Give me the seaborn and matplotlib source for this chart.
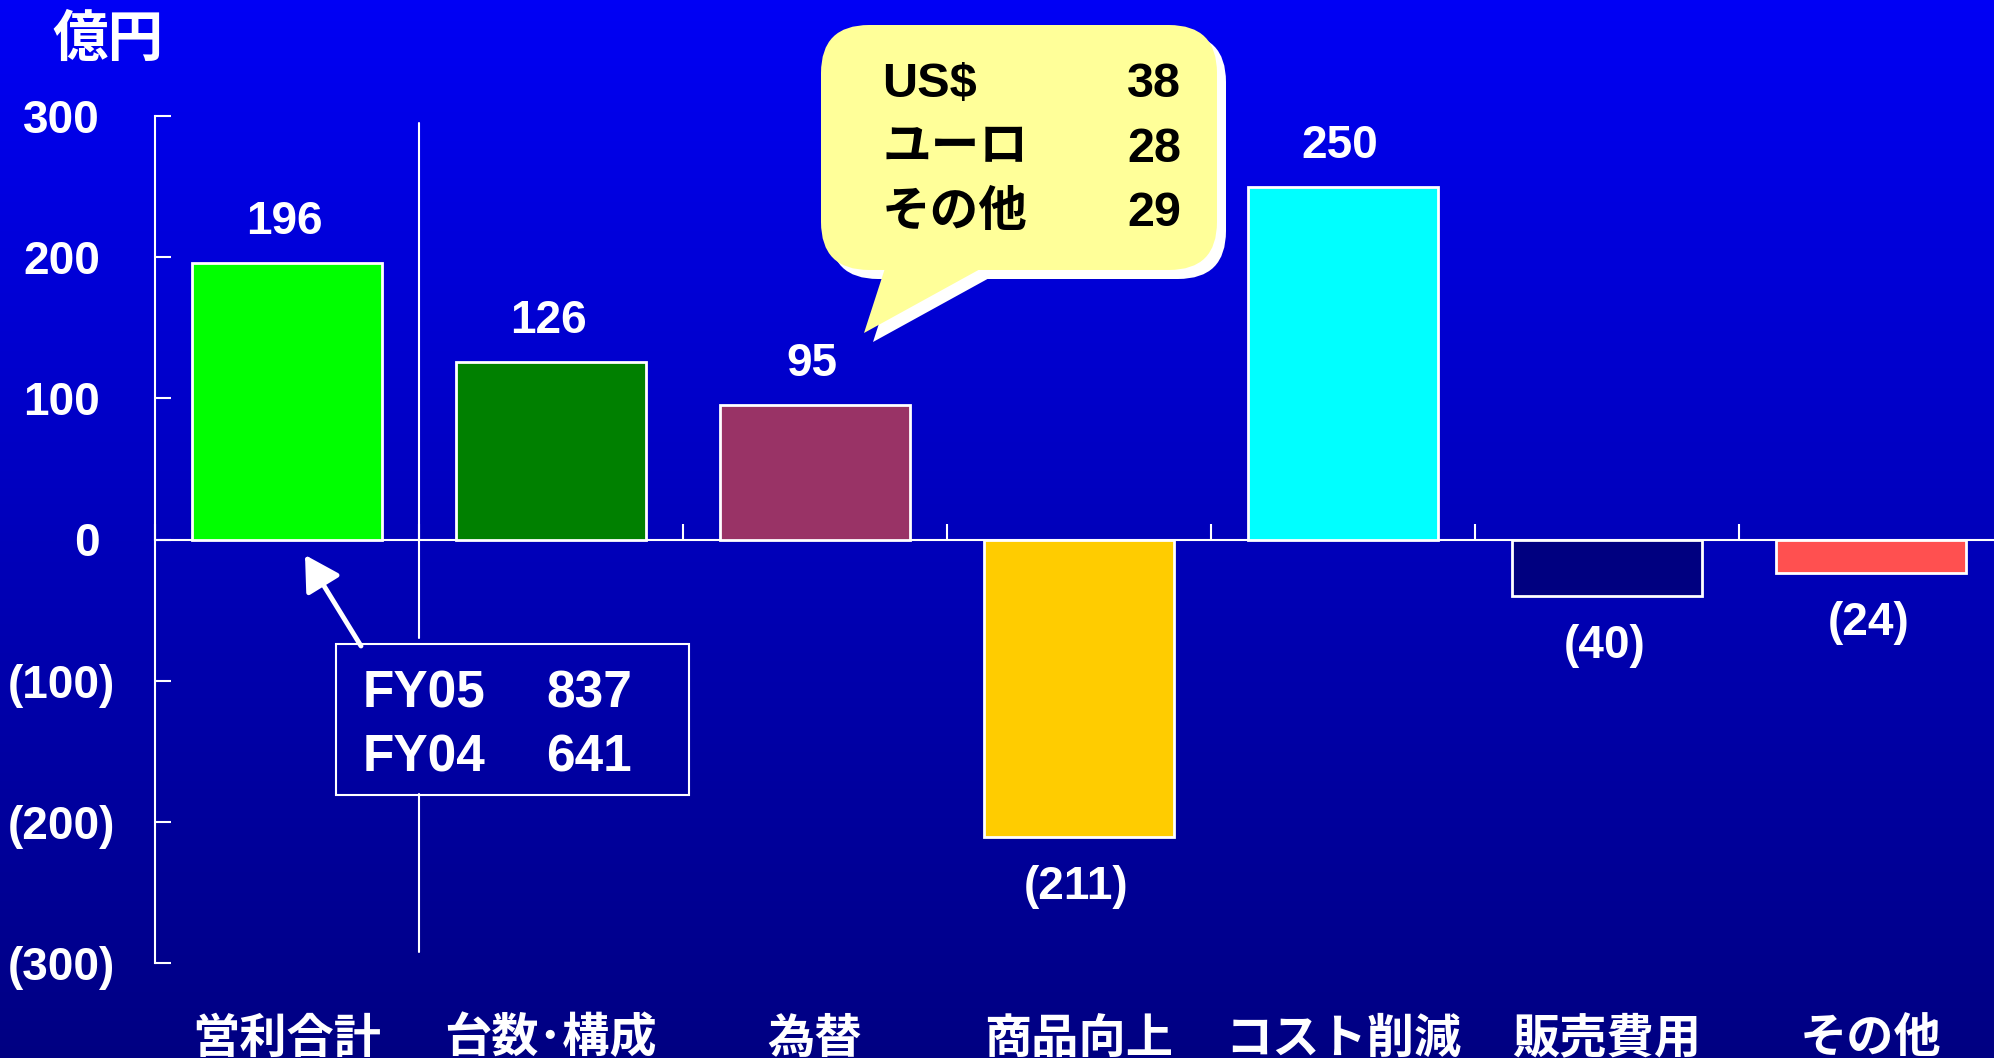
import numpy as np
import pandas as pd
import matplotlib
matplotlib.use('Agg')
import matplotlib.pyplot as plt
from matplotlib.colors import LinearSegmentedColormap
from matplotlib.patches import FancyBboxPatch, Polygon, Rectangle
import seaborn as sns

# data
categories = ['営利合計', '台数･構成', '為替', '商品向上', 'コスト削減', '販売費用', 'その他']
values = [196, 126, 95, -211, 250, -40, -24]
bar_colors = ['#00FF00', '#008000', '#993366', '#FFCC00', '#00FFFF', '#000080', '#FF5050']
yticks = [300, 200, 100, 0, -100, -200, -300]
ytick_labels = ['300', '200', '100', '0', '(100)', '(200)', '(300)']
fx_labels = ['US$', 'ユーロ', 'その他']
fx_values = [38, 28, 29]
fy_labels = ['FY05', 'FY04']
fy_values = [837, 641]
unit_label = '億円'

sns.set_style('white')
plt.rcParams['font.family'] = ['Liberation Sans', 'Noto Sans CJK JP']
plt.rcParams['font.weight'] = 'bold'
CJK = ['Noto Sans CJK JP', 'Liberation Sans']

W, H = 1994, 1058
fig = plt.figure(figsize=(W / 100, H / 100), dpi=100)

# gradient background
bg = fig.add_axes([0, 0, 1, 1], zorder=0)
cmap = LinearSegmentedColormap.from_list('bg', ['#0000F5', '#000082'])
bg.imshow(np.linspace(0, 1, 256)[:, None], aspect='auto', cmap=cmap,
          extent=[0, 1, 0, 1], origin='upper')
bg.axis('off')

# main chart
ax = fig.add_axes([155 / W, 1 - 963 / H, (2003 - 155) / W, (963 - 116) / H], zorder=1)
ax.patch.set_alpha(0)
df = pd.DataFrame({'item': categories, 'value': values})
sns.barplot(data=df, x='item', y='value', hue='item', palette=bar_colors, saturation=1,
            width=0.72, edgecolor='white', linewidth=2, legend=False, ax=ax, zorder=3)
ax.set_xlim(-0.5, len(categories) - 0.5)
ax.set_ylim(-300, 300)
ax.set_xlabel('')
ax.set_ylabel('')

for s in ['top', 'right']:
    ax.spines[s].set_visible(False)
ax.spines['left'].set_color('white')
ax.spines['left'].set_linewidth(1.5)
ax.spines['bottom'].set_position(('data', 0))
ax.spines['bottom'].set_color('white')
ax.spines['bottom'].set_linewidth(1.5)
ax.spines['bottom'].set_zorder(2)

ax.set_yticks(yticks)
ax.set_yticklabels([])
ax.tick_params(axis='y', left=True, direction='in', length=11.5, width=1.5, color='white')

ax.set_xticks(range(len(categories)))
ax.set_xticklabels(categories, fontsize=34, fontweight='bold', color='white', family=CJK)
ax.tick_params(axis='x', which='major', bottom=True, length=0, pad=342)
ax.set_xticks(np.arange(-0.5, len(categories)), minor=True)
ax.tick_params(axis='x', which='minor', bottom=True, direction='in', length=11.5, width=1.5,
               color='white')

# y tick labels, accounting style
ytrans = ax.get_yaxis_transform()
for v, lab in zip(yticks, ytick_labels):
    off = -29 if lab.startswith('(') else -39.5
    ax.annotate(lab, xy=(0, v), xycoords=ytrans, xytext=(off, -3.5), textcoords='offset points',
                ha='right', va='center', fontsize=33, fontweight='bold', color='white',
                annotation_clip=False)

# value labels
for i, v in enumerate(values):
    txt = f'({abs(v)})' if v < 0 else f'{v}'
    ax.annotate(txt, xy=(i, v), xytext=(-2, 29.5 if v >= 0 else -36), textcoords='offset points',
                ha='center', va='center', fontsize=33, fontweight='bold', color='white')

# separator line behind the FY box
ax.plot([0.5, 0.5], [295, -70], color='white', lw=1.5, clip_on=False)
ax.plot([0.5, 0.5], [-180, -292], color='white', lw=1.5, clip_on=False)

# overlay in pixel units for the callouts
ov = fig.add_axes([0, 0, 1, 1], zorder=5)
ov.set_xlim(0, W)
ov.set_ylim(H, 0)
ov.axis('off')

ov.text(108, 40, unit_label, fontsize=40, ha='center', va='center', color='white',
        fontweight='bold', family=CJK)


def bubble(dx, dy, color):
    ov.add_patch(FancyBboxPatch((821 + dx, 25 + dy), 396, 245,
                                boxstyle='round,pad=0,rounding_size=48', fc=color, ec='none'))
    ov.add_patch(Polygon([(887 + dx, 262 + dy), (864 + dx, 333 + dy), (993 + dx, 262 + dy)],
                         closed=True, fc=color, ec='none'))


bubble(9, 9, 'white')
bubble(0, 0, '#FFFF99')
for k, (lab, val) in enumerate(zip(fx_labels, fx_values)):
    base = 97 + 64.5 * k
    ov.text(882, base, lab, fontsize=35, ha='left', va='baseline', color='black',
            fontweight='bold', family=['Liberation Sans', 'Noto Sans CJK JP'])
    ov.text(1181, base, str(val), fontsize=35, ha='right', va='baseline', color='black',
            fontweight='bold')

# FY totals box with arrow
ov.add_patch(Rectangle((336, 644), 353, 151, fill=False, ec='white', lw=1.5))
for k, (lab, val) in enumerate(zip(fy_labels, fy_values)):
    base = 707 + 65 * k
    ov.text(363, base, lab, fontsize=37, ha='left', va='baseline', color='white', fontweight='bold')
    ov.text(546, base, str(val), fontsize=37, ha='left', va='baseline', color='white',
            fontweight='bold')
ov.annotate('', xy=(305, 555), xytext=(361, 646),
            arrowprops=dict(arrowstyle='-|>,head_length=0.7,head_width=0.4', lw=3.5,
                            color='white', shrinkA=0, shrinkB=0, mutation_scale=30))

fig.savefig('out.png', dpi=100)
